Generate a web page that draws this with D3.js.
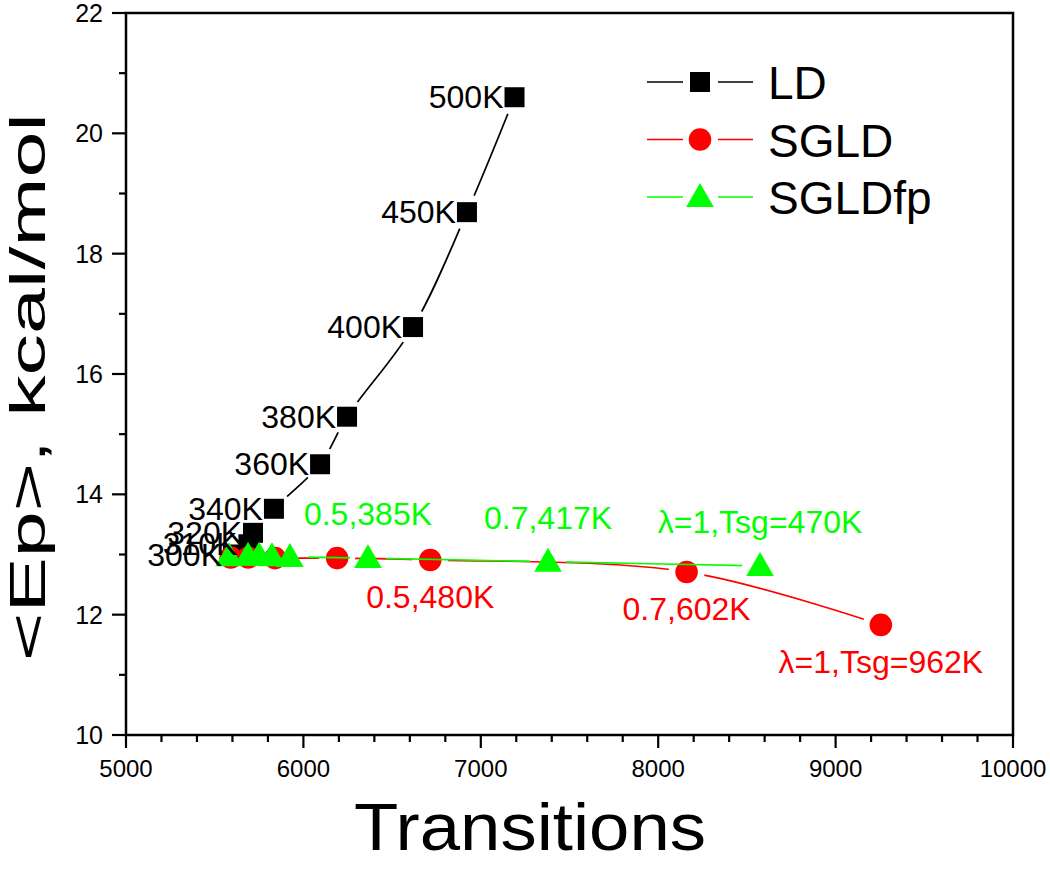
<!DOCTYPE html>
<html><head><meta charset="utf-8">
<script src="https://cdn.jsdelivr.net/npm/d3@7"></script>
<style>body{margin:0;background:#fff}svg{display:block;font-family:"Liberation Sans",Arial,sans-serif}</style>
</head><body><svg id="c" width="1050" height="874"></svg>
<script>
const ldX = [5603, 5690, 5716, 5834, 6094, 6246, 6618, 6922, 7190];
const ldY = [13.0, 13.17, 13.36, 13.76, 14.5, 15.29, 16.78, 18.69, 20.6];
const ldLabels = ["300K", "310K", "320K", "340K", "360K", "380K", "400K", "450K", "500K"];

const sgldX = [5590, 5690, 5840, 6190, 6715, 8160, 9255];
const sgldY = [12.95, 12.95, 12.94, 12.94, 12.91, 12.71, 11.83];
const sgldLabels = ["", "", "", "", "0.5,480K", "0.7,602K", "λ=1,Tsg=962K"];

const fpX = [5581, 5688, 5750, 5823, 5924, 6364, 7379, 8574];
const fpY = [12.97, 12.98, 12.98, 12.97, 12.96, 12.94, 12.88, 12.81];
const fpLabels = ["", "", "", "", "", "0.5,385K", "0.7,417K", "λ=1,Tsg=470K"];

const seriesNames = ["LD", "SGLD", "SGLDfp"];
const xTicks = [5000, 6000, 7000, 8000, 9000, 10000];
const yTicks = [10, 12, 14, 16, 18, 20, 22];

const svg = d3.select("#c");
const L = 126, T = 13, R = 1013, B = 735;
const x = d3.scaleLinear().domain([5000, 10000]).range([L, R]);
const y = d3.scaleLinear().domain([10, 22]).range([B, T]);

const series = [
  {name: seriesNames[0], xs: ldX, ys: ldY, labels: ldLabels, color: "#000000", sym: d3.symbolSquare, size: 400, pos: "left"},
  {name: seriesNames[1], xs: sgldX, ys: sgldY, labels: sgldLabels, color: "#ff0000", sym: d3.symbolCircle, size: 400, pos: "below"},
  {name: seriesNames[2], xs: fpX, ys: fpY, labels: fpLabels, color: "#00ff00", sym: d3.symbolTriangle, size: 330, pos: "above"}
];

const defs = svg.append("defs");
const line = d3.line().x(d => x(d[0])).y(d => y(d[1])).curve(d3.curveCatmullRom.alpha(0.5));

series.forEach((s, i) => {
  const pts = s.xs.map((v, j) => [v, s.ys[j]]);
  const m = defs.append("mask").attr("id", "m" + i).attr("maskUnits", "userSpaceOnUse")
    .attr("x", 0).attr("y", 0).attr("width", 1050).attr("height", 874);
  m.append("rect").attr("width", 1050).attr("height", 874).attr("fill", "#fff");
  m.selectAll("circle").data(pts).join("circle")
    .attr("cx", d => x(d[0])).attr("cy", d => y(d[1])).attr("r", 18).attr("fill", "#000");
  svg.append("path").datum(pts).attr("d", line).attr("fill", "none")
    .attr("stroke", s.color).attr("stroke-width", 1.7).attr("mask", `url(#m${i})`);
  svg.append("g").selectAll("path").data(pts).join("path")
    .attr("d", d3.symbol().type(s.sym).size(s.size))
    .attr("transform", d => `translate(${x(d[0])},${y(d[1]) + (s.sym === d3.symbolTriangle ? 2 : 0)})`)
    .attr("fill", s.color);
});

// labels
series.forEach(s => {
  const g = svg.append("g").attr("fill", s.color).style("font-size", "32px");
  s.labels.forEach((t, j) => {
    if (!t) return;
    const px = x(s.xs[j]), py = y(s.ys[j]);
    if (s.pos === "left") {
      g.append("text").attr("x", px - 11).attr("y", py + 11).attr("text-anchor", "end").attr("fill", "#000").text(t);
    } else if (s.pos === "below") {
      g.append("text").attr("x", px).attr("y", py + 48).attr("text-anchor", "middle").text(t);
    } else {
      g.append("text").attr("x", px).attr("y", py - 33).attr("text-anchor", "middle").text(t);
    }
  });
});

// axes
const ax = svg.append("g").attr("stroke", "#000").attr("stroke-width", 2.5).attr("fill", "none");
ax.append("rect").attr("x", L).attr("y", T).attr("width", R - L).attr("height", B - T);
const xMinor = d3.range(5000, 10001, 200);
ax.selectAll(".xt").data(xMinor).join("line")
  .attr("x1", d => x(d)).attr("x2", d => x(d)).attr("y1", B)
  .attr("y2", d => B + (d % 1000 === 0 ? 13 : 7)).attr("stroke-width", 2.2);
const yMinor = d3.range(10, 22.01, 1);
ax.selectAll(".yt").data(yMinor).join("line")
  .attr("y1", d => y(d)).attr("y2", d => y(d)).attr("x1", L)
  .attr("x2", d => L - (d % 2 === 0 ? 14 : 7)).attr("stroke-width", 2.2);

svg.append("g").style("font-size", "24px").selectAll("text").data(xTicks).join("text")
  .attr("x", d => x(d)).attr("y", B + 42).attr("text-anchor", "middle").text(d => d);
svg.append("g").style("font-size", "25px").selectAll("text").data(yTicks).join("text")
  .attr("x", L - 23).attr("y", d => y(d) + 9).attr("text-anchor", "end").text(d => d);

svg.append("text").attr("x", 530).attr("y", 850).attr("text-anchor", "middle")
  .style("font-size", "66px").attr("textLength", 352).attr("lengthAdjust", "spacingAndGlyphs").text("Transitions");
svg.append("text").attr("transform", "translate(45,387) rotate(-90)").attr("text-anchor", "middle")
  .style("font-size", "50px").attr("textLength", 548).attr("lengthAdjust", "spacingAndGlyphs").text("<Ep>, kcal/mol");

// legend
const lg = svg.append("g");
series.forEach((s, i) => {
  const ly = 82 + i * 57.5;
  lg.append("line").attr("x1", 647).attr("x2", 683).attr("y1", ly).attr("y2", ly).attr("stroke", s.color).attr("stroke-width", 1.7);
  lg.append("line").attr("x1", 718).attr("x2", 753).attr("y1", ly).attr("y2", ly).attr("stroke", s.color).attr("stroke-width", 1.7);
  lg.append("path").attr("d", d3.symbol().type(s.sym).size(s.size))
    .attr("transform", `translate(700,${ly + (s.sym === d3.symbolTriangle ? 2 : 0)})`).attr("fill", s.color);
  lg.append("text").attr("x", 768).attr("y", ly + 17).style("font-size", "46px").text(s.name);
});
</script></body></html>
